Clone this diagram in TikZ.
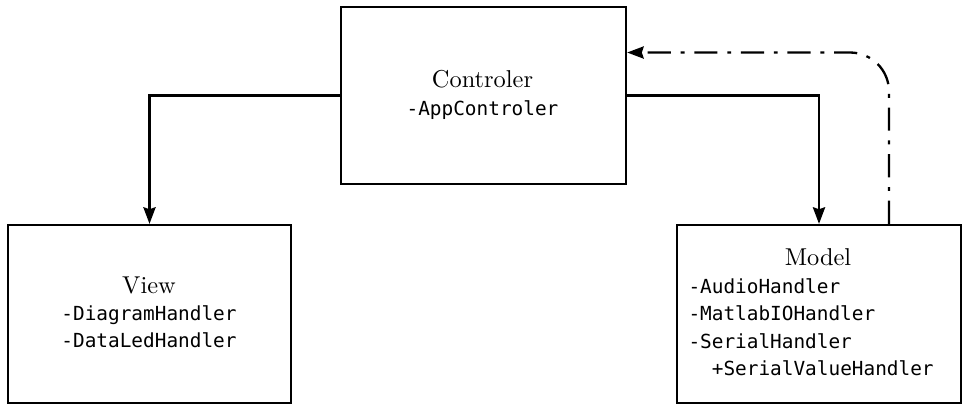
\documentclass[tikz,border=0pt]{standalone}
\usepackage{fontspec}
\setmonofont{DejaVu Sans Mono}
\usetikzlibrary{arrows.meta,calc}
\newdimen\px \px=0.41pt
\tikzset{
  box/.style={draw, line width=0.95pt, inner sep=0pt},
  ttl/.style={anchor=base, inner sep=0pt, font=\normalsize},
  mono/.style={anchor=base, inner sep=0pt, font=\fontsize{7.95}{10}\ttfamily},
  monol/.style={anchor=base west, inner sep=0pt, font=\fontsize{7.95}{10}\ttfamily},
  tip/.style={-{Stealth[length=6.8pt,width=5pt,inset=0.8pt]}},
  arr/.style={line width=0.95pt, tip},
  dd/.style={line width=0.95pt, dash pattern=on 9.5pt off 4pt on 1.6pt off 4pt, rounded corners=16pt, tip}
}
\begin{document}
\begin{tikzpicture}[x=0.41pt,y=-0.41pt]
\useasboundingbox (0,0) rectangle (967,409);
% boxes
\node[box, minimum width=285\px, minimum height=177\px] (ctrl) at (483.5,95.5) {};
\node[box, minimum width=283\px, minimum height=178\px] (view) at (149.5,314) {};
\node[box, minimum width=284\px, minimum height=178\px] (model) at (819,314) {};
% texts
\node[ttl] (ctrlT) at (482.5,87) {Controler};
\node[mono] (ctrlA) at (482.5,115) {-AppControler};
\node[ttl] (viewT) at (149,293) {View};
\node[mono] (viewA) at (149,320) {-DiagramHandler};
\node[mono] (viewB) at (149,347) {-DataLedHandler};
\node[ttl] (modelT) at (818,265) {Model};
\node[monol] (modelA) at (688,293) {-AudioHandler};
\node[monol] (modelB) at (688,320) {-MatlabIOHandler};
\node[monol] (modelC) at (688,348) {-SerialHandler};
\node[monol] (modelD) at (688,375) {\ \ +SerialValueHandler};
% connectors
\draw[arr] (ctrl.west) -| (view.north);
\draw[arr] (ctrl.east) -| (model.north);
\coordinate (ddstart) at ($(model.north)+(70,0)$);
\coordinate (ddend) at ($(ctrl.east)+(0,-43)$);
\draw[dd] (ddstart) |- (ddend);
\end{tikzpicture}
\end{document}
